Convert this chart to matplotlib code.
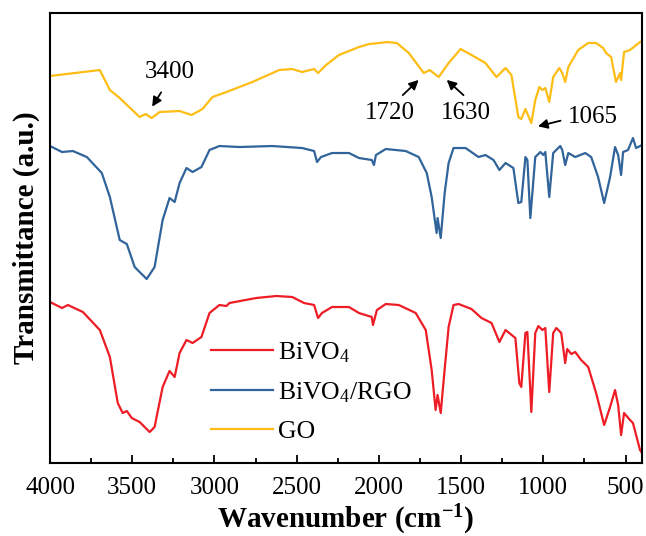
import numpy as np
import matplotlib
matplotlib.use('Agg')
import matplotlib.pyplot as plt

plt.rcParams['font.family'] = ['Liberation Serif', 'DejaVu Serif']
plt.rcParams['mathtext.fontset'] = 'custom'
plt.rcParams['mathtext.rm'] = 'Liberation Serif'
plt.rcParams['mathtext.it'] = 'Liberation Serif:italic'
plt.rcParams['mathtext.bf'] = 'Liberation Serif:bold'

# Espectros FTIR (numero de onda, transmitancia em u.a.)
go_wn = [4000, 3697, 3636, 3576, 3455, 3418, 3382, 3333, 3212, 3139, 3073, 3012,
         2927, 2770, 2606, 2527, 2467, 2394, 2370, 2321, 2243, 2121, 2060, 2000,
         1950, 1891, 1818, 1727, 1691, 1636, 1576, 1503, 1437, 1352, 1285, 1230,
         1194, 1152, 1134, 1109, 1073, 1049, 1024, 1006, 988, 964, 940, 903, 885,
         867, 848, 788, 727, 679, 636, 618, 588, 558, 533, 527, 509, 473, 442, 412,
         400]
go_t = [387, 393, 373, 365, 346, 349, 345, 351, 352, 348, 354, 366,
        371, 381, 393, 394, 391, 394, 390, 398, 408, 416, 419, 420,
        421, 420, 410, 390, 393, 386, 400, 414, 408, 400, 386, 395,
        388, 346, 344, 354, 340, 363, 376, 373, 375, 361, 386, 395, 390,
        381, 396, 413, 420, 420, 415, 410, 406, 381, 390, 383, 411, 413, 417, 421,
        422]

rgo_wn = [4000, 3927, 3861, 3776, 3685, 3636, 3576, 3533, 3485, 3455, 3412, 3364,
          3315, 3273, 3242, 3212, 3170, 3133, 3079, 3030, 2970, 2849, 2649, 2467,
          2394, 2376, 2352, 2285, 2182, 2121, 2043, 2030, 2018, 1958, 1837, 1758,
          1709, 1679, 1649, 1643, 1624, 1600, 1576, 1546, 1473, 1394, 1352, 1303,
          1267, 1230, 1182, 1152, 1134, 1109, 1097, 1079, 1049, 1018, 1000, 988,
          964, 940, 897, 885, 867, 848, 806, 745, 709, 667, 630, 594, 564, 545,
          527, 515, 485, 455, 436, 412, 400]
rgo_t = [317, 311, 312, 306, 290, 266, 223, 219, 196, 191, 184, 196,
         243, 265, 261, 280, 295, 291, 296, 313, 317, 316, 317, 315,
         312, 301, 306, 310, 310, 305, 303, 298, 308, 314, 312, 306,
         290, 266, 230, 245, 225, 270, 300, 315, 315, 306, 308, 303,
         293, 300, 295, 260, 261, 306, 303, 245, 306, 311, 308, 311,
         266, 310, 317, 313, 298, 310, 306, 310, 306, 286, 260, 286, 316, 308,
         288, 311, 313, 325, 315, 317, 318]

bivo_wn = [4000, 3927, 3891, 3800, 3697, 3636, 3588, 3558, 3533, 3503, 3455, 3394,
           3364, 3315, 3273, 3242, 3212, 3170, 3133, 3079, 3030, 2970, 2927, 2909,
           2746, 2624, 2527, 2455, 2394, 2370, 2346, 2285, 2182, 2121, 2043, 2036,
           2012, 1958, 1879, 1776, 1715, 1679, 1655, 1643, 1624, 1606, 1576, 1546,
           1515, 1437, 1376, 1315, 1267, 1230, 1170, 1146, 1134, 1109, 1097, 1073,
           1049, 1030, 1006, 988, 964, 940, 921, 891, 867, 855, 830, 806, 770, 727,
           679, 630, 594, 564, 545, 527, 509, 473, 455, 412, 400]
bivo_t = [161, 155, 158, 151, 133, 106, 60, 50, 52, 45, 41, 31,
          36, 76, 92, 86, 110, 123, 120, 126, 150, 158, 157, 160,
          165, 167, 166, 160, 158, 145, 150, 156, 156, 150, 146, 138,
          153, 159, 158, 150, 133, 93, 53, 68, 50, 83, 136, 158,
          159, 154, 145, 140, 121, 133, 125, 80, 76, 130, 131, 51,
          130, 137, 133, 135, 71, 130, 135, 130, 100, 114, 109, 111, 103, 96,
          70, 38, 56, 73, 58, 28, 50, 43, 40, 13, 10]

fig, ax = plt.subplots(figsize=(6.46, 5.36), dpi=100)
fig.subplots_adjust(left=0.0774, right=0.9938, bottom=0.1362, top=0.9757)

ax.plot(bivo_wn, bivo_t, color='#EE1C25', lw=1.6, label=r'BiVO$_4$')
ax.plot(rgo_wn, rgo_t, color='#30649A', lw=1.6, label=r'BiVO$_4$/RGO')
ax.plot(go_wn, go_t, color='#FDBD14', lw=1.6, label='GO')

ax.set_xlim(4000, 400)
ax.set_ylim(0, 450)
ax.set_xticks([4000, 3500, 3000, 2500, 2000, 1500, 1000, 500])
ax.set_xticks(np.arange(3750, 400, -500), minor=True)
ax.set_yticks([])
ax.tick_params(axis='x', which='major', direction='in', length=6, width=1.3,
               labelsize=18, pad=10, top=False)
ax.tick_params(axis='x', which='minor', direction='in', length=3.5, width=1.3, top=False)
for s in ax.spines.values():
    s.set_linewidth(1.5)

ax.set_xlabel(r'Wavenumber (cm$^{\mathbf{-1}}$)', fontsize=21, fontweight='bold', labelpad=3)
ax.set_ylabel('Transmittance (a.u.)', fontsize=21, fontweight='bold', labelpad=7)

# anotacoes dos picos
seta = dict(arrowstyle='-|>', color='black', lw=1.3, mutation_scale=14)
ax.annotate('', xy=(3388, 354), xytext=(3315, 373), arrowprops=seta)
ax.text(3273, 391, '3400', fontsize=18, ha='center', va='center')
ax.annotate('', xy=(1746, 385), xytext=(1867, 366), arrowprops=seta)
ax.text(1933, 350, '1720', fontsize=18, ha='center', va='center')
ax.annotate('', xy=(1600, 385), xytext=(1473, 366), arrowprops=seta)
ax.text(1473, 350, '1630', fontsize=18, ha='center', va='center')
ax.annotate('', xy=(1049, 336), xytext=(879, 343), arrowprops=seta)
ax.text(697, 346, '1065', fontsize=18, ha='center', va='center')

ax.legend(loc='center left', bbox_to_anchor=(0.255, 0.158), frameon=False,
          fontsize=18.5, handlelength=2.4, handletextpad=0.2, labelspacing=0.6,
          borderaxespad=0)

plt.savefig('out.png', dpi=100)
